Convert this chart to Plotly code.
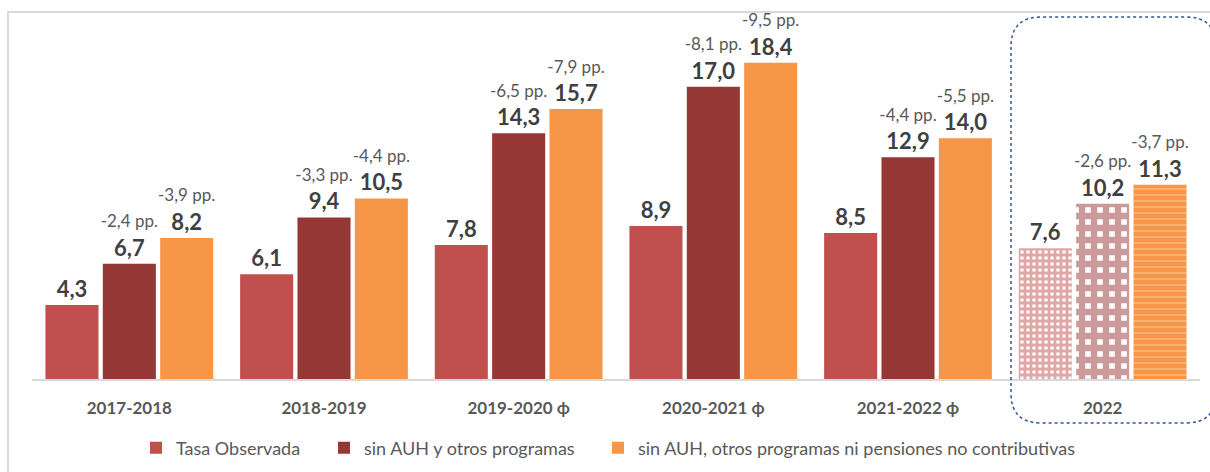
import plotly.graph_objects as go

# ---- data ----
categories = ["2017-2018", "2018-2019", "2019-2020 ϕ", "2020-2021 ϕ", "2021-2022 ϕ", "2022"]
series_names = [
    "Tasa Observada",
    "sin AUH y otros programas",
    "sin AUH, otros programas ni pensiones no contributivas",
]
tasa_observada = [4.3, 6.1, 7.8, 8.9, 8.5, 7.6]
sin_auh = [6.7, 9.4, 14.3, 17.0, 12.9, 10.2]
sin_auh_pnc = [8.2, 10.5, 15.7, 18.4, 14.0, 11.3]
dif_sin_auh = [-2.4, -3.3, -6.5, -8.1, -4.4, -2.6]
dif_sin_auh_pnc = [-3.9, -4.4, -7.9, -9.5, -5.5, -3.7]

colors = ["#C0504D", "#953735", "#F79646"]
FONT = "Lato, 'Open Sans', sans-serif"


def fmt(v):
    return f"{v:.1f}".replace(".", ",")


def labels(values, diffs=None):
    out = []
    for i, v in enumerate(values):
        t = f"<b>{fmt(v)}</b>"
        if diffs is not None:
            t = (f"<span style='font-size:17px;font-weight:normal;color:#595959'>"
                 f"{fmt(diffs[i])} pp.</span><br>" + t)
        out.append(t)
    return out


n = len(categories)
# last category (2022) is drawn with patterns
pattern_specs = [
    dict(shape=[""] * (n - 1) + ["+"], fgcolor=[colors[0]] * n,
         bgcolor=["white"] * n, size=[6] * n, solidity=[0.72] * n),
    dict(shape=[""] * (n - 1) + ["+"], fgcolor=[colors[1]] * n,
         bgcolor=["white"] * n, size=[12] * n, solidity=[0.78] * n),
    dict(shape=[""] * (n - 1) + ["-"], fgcolor=["white"] * n,
         bgcolor=[colors[2]] * n, size=[6] * n, solidity=[0.16] * n),
]

series = [tasa_observada, sin_auh, sin_auh_pnc]
diffs = [None, dif_sin_auh, dif_sin_auh_pnc]
legend_ids = ["legend", "legend2", "legend3"]

fig = go.Figure()
for k in range(3):
    fig.add_trace(go.Bar(
        name=series_names[k],
        x=categories,
        y=series[k],
        marker=dict(color=colors[k], line=dict(width=0), pattern=pattern_specs[k]),
        text=labels(series[k], diffs[k]),
        textposition="outside",
        textfont=dict(family=FONT, size=22, color="#404040"),
        constraintext="none",
        cliponaxis=False,
        hoverinfo="skip",
        legend=legend_ids[k],
    ))

# ---- layout helpers (pixel -> paper) ----
W, H = 1210, 472
ML, MR, MT, MB = 32, 10, 18, 93
PW, PH = W - ML - MR, H - MT - MB


def px(x):
    return (x - ML) / PW


def py(y):
    return (H - MB - y) / PH


L, R, T, B = px(1011), px(1216), py(17), py(423)
rx, ry = 30 / PW, 30 / PH
box_path = (f"M {L},{T - ry} L {L},{B + ry} Q {L},{B} {L + rx},{B} "
            f"L {R - rx},{B} Q {R},{B} {R},{B + ry} L {R},{T - ry} "
            f"Q {R},{T} {R - rx},{T} L {L + rx},{T} Q {L},{T} {L},{T - ry} Z")


def legend_at(xpix):
    return dict(
        orientation="h",
        xref="container", x=xpix / W, xanchor="left",
        yref="container", y=1 - 448 / H, yanchor="middle",
        font=dict(family=FONT, size=18, color="#595959"),
        bgcolor="rgba(0,0,0,0)",
    )


fig.update_layout(
    width=W, height=H,
    margin=dict(l=ML, r=MR, t=MT, b=MB, autoexpand=False),
    paper_bgcolor="white", plot_bgcolor="white",
    barmode="group", bargap=0.116, bargroupgap=0.075,
    font=dict(family=FONT, color="#595959"),
    showlegend=True,
    legend=legend_at(136),
    legend2=legend_at(324),
    legend3=legend_at(598),
    xaxis=dict(
        showline=True, linecolor="#D9D9D9", linewidth=2,
        ticks="", showgrid=False, zeroline=False,
        tickfont=dict(family=FONT, size=17, color="#595959", weight="bold"),
        ticklabelstandoff=13,
        fixedrange=True,
    ),
    yaxis=dict(
        range=[0, 21], visible=False, showgrid=False, zeroline=False, fixedrange=True,
    ),
    shapes=[
        dict(type="rect", xref="paper", yref="paper",
             x0=px(8), x1=px(1230), y0=py(490), y1=py(12),
             line=dict(color="#D9D9D9", width=2), layer="below"),
        dict(type="path", xref="paper", yref="paper", path=box_path,
             line=dict(color="#2F5597", width=1.5, dash="dot")),
    ],
)

fig.write_html(
    "out.html",
    config={"displayModeBar": False},
    post_script="document.body.style.margin='0px';document.body.style.overflow='hidden';",
)
